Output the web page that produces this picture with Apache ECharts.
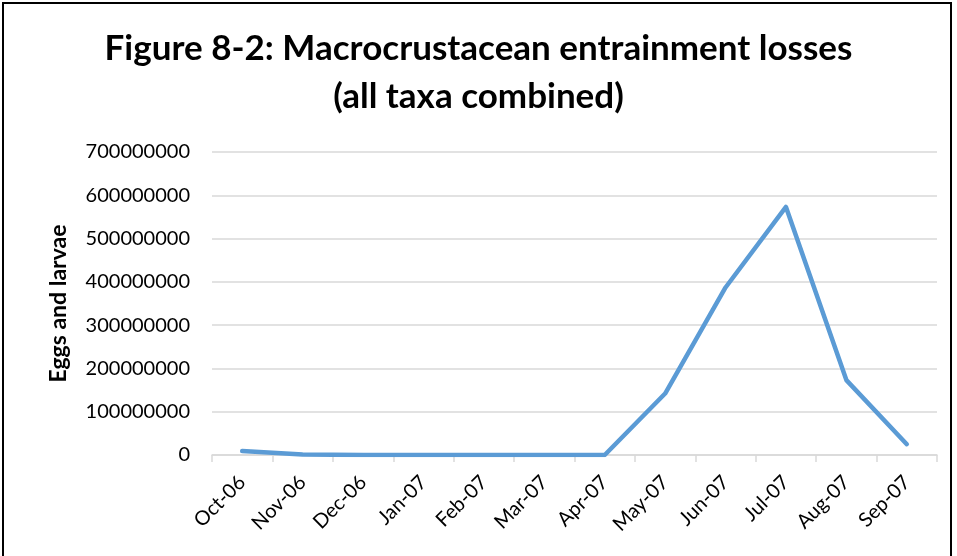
<!DOCTYPE html>
<html>
<head>
<meta charset="utf-8">
<script src="https://cdn.jsdelivr.net/npm/echarts@6/dist/echarts.min.js"></script>
<style>
  html, body { margin: 0; padding: 0; background: #fff; overflow: hidden; }
  #frame {
    position: absolute; left: 2px; top: 2px;
    width: 950px; height: 570px;
    border: 2px solid #000; box-sizing: border-box;
  }
  #chart { position: absolute; left: 0; top: 0; width: 957px; height: 556px; }
</style>
</head>
<body>
<div id="frame"></div>
<div id="chart"></div>
<script>
// months on the x axis
const months = ["Oct-06", "Nov-06", "Dec-06", "Jan-07", "Feb-07", "Mar-07",
  "Apr-07", "May-07", "Jun-07", "Jul-07", "Aug-07", "Sep-07"];
// eggs and larvae, all taxa combined
const losses = [9000000, 1000000, 0, 0, 0, 0, 0, 142000000, 387000000, 573000000, 173000000, 25000000];

const titleLines = ["Figure 8-2: Macrocrustacean entrainment losses", "(all taxa combined)"];
const yName = "Eggs and larvae";

let myChart = echarts.init(document.getElementById("chart"));
let fontFam = "Lato, 'Open Sans', sans-serif";

let option = {
  backgroundColor: "transparent",
  animation: false,
  title: {
    text: titleLines.join("\n"),
    left: "center",
    top: 20,
    textStyle: {
      fontFamily: fontFam,
      fontSize: 35,
      fontWeight: "bold",
      color: "#000",
      lineHeight: 48
    }
  },
  grid: {
    left: 212,
    right: 20,
    top: 152,
    bottom: 101
  },
  xAxis: {
    type: "category",
    data: months,
    boundaryGap: true,
    axisLine: { lineStyle: { color: "#d9d9d9", width: 1.5 } },
    axisTick: { show: true, length: 7, lineStyle: { color: "#d9d9d9", width: 1.5 } },
    axisLabel: {
      rotate: 45,
      interval: 0,
      margin: 24,
      color: "#000",
      fontSize: 20,
      fontFamily: fontFam
    }
  },
  yAxis: {
    type: "value",
    min: 0,
    max: 700000000,
    interval: 100000000,
    name: yName,
    nameLocation: "middle",
    nameGap: 142,
    nameTextStyle: {
      fontFamily: fontFam,
      fontSize: 23,
      fontWeight: "bold",
      color: "#000"
    },
    axisLine: { show: false },
    axisTick: { show: false },
    splitLine: { lineStyle: { color: "#d9d9d9", width: 1.5 } },
    axisLabel: {
      margin: 22,
      color: "#000",
      fontSize: 20,
      fontFamily: fontFam,
      formatter: function (v) { return String(v); }
    }
  },
  series: [
    {
      type: "line",
      data: losses,
      showSymbol: false,
      symbol: "none",
      lineStyle: { color: "#5b9bd5", width: 4.5, cap: "round", join: "round" }
    }
  ]
};
myChart.setOption(option);
</script>
</body>
</html>
